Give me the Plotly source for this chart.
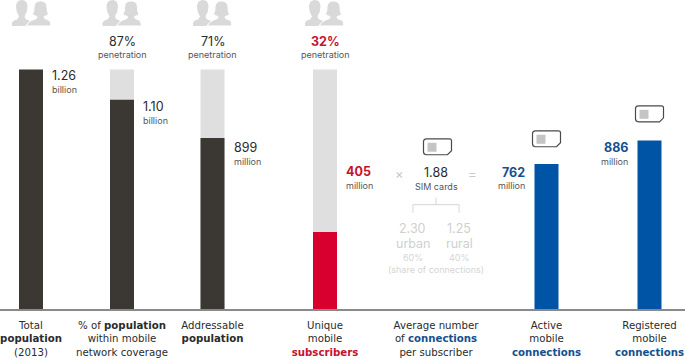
import plotly.graph_objects as go

FONT = "Inter"
DARK = "#3b3834"
LIGHT = "#dfdfdf"
RED = "#d7002e"
BLUE = "#0054a6"
RED_TXT = "#c4122f"
BLUE_TXT = "#14508f"
TEXT = "#2b2b2b"

categories = [
    "Total<br><b>population</b><br>(2013)",
    "% of <b>population</b><br>within mobile<br>network coverage",
    "Addressable<br><b>population</b>",
    f"Unique<br>mobile<br><b><span style='color:{RED_TXT}'>subscribers</span></b>",
    f"Average number<br>of <b><span style='color:{BLUE_TXT}'>connections</span></b><br>per subscriber",
    f"Active<br>mobile<br><b><span style='color:{BLUE_TXT}'>connections</span></b>",
    f"Registered<br>mobile<br><b><span style='color:{BLUE_TXT}'>connections</span></b>",
]
values_millions = [1260, 1100, 899, 405, None, 762, 886]
total_population = [None, 1260, 1260, 1260, None, None, None]
value_labels = ["1.26", "1.10", "899", "405", "1.88", "762", "886"]
unit_labels = ["billion", "billion", "million", "million", "SIM cards", "million", "million"]
penetration = [None, "87%", "71%", "32%", None, None, None]

# layout constants (pixels)
W, H = 685, 363
BASE = 309.5
Y_MAX = 1625
centers = [31, 122, 212.5, 325, 436, 546.5, 649.5]
bar_colors = [DARK, DARK, DARK, RED, DARK, BLUE, BLUE]
BAR_W = 24


def Y(py):
    return (BASE - py) * Y_MAX / BASE


def pth(points):
    """Build an SVG path from pixel commands, converting y to the axis."""
    out = []
    for cmd in points:
        c, *xy = cmd
        s = c
        for i in range(0, len(xy), 2):
            s += f" {xy[i]:.2f},{Y(xy[i + 1]):.2f}"
        out.append(s)
    return " ".join(out) + " Z"


shapes = []


def person(ox):
    grey = "#d9d9d9"
    male = [("M", ox, 26), ("L", ox, 23), ("Q", ox + 1, 20.5, ox + 5, 19.5), ("L", ox + 7, 16.5),
            ("Q", ox + 4, 12, ox + 4, 6.5), ("Q", ox + 4.5, 0, ox + 10, 0), ("Q", ox + 15, 0, ox + 15.5, 6.5),
            ("Q", ox + 15.5, 12, ox + 12.5, 16), ("L", ox + 13.5, 19), ("L", ox + 18, 21), ("L", ox + 13, 26)]
    shapes.append(dict(type="path", path=pth(male), fillcolor=grey, line_width=0, layer="above"))
    fx = ox + 28.5
    female = [("M", fx - 14, 26), ("Q", fx - 13, 22, fx - 9, 20.5), ("L", fx - 4, 18.5), ("L", fx - 3.5, 16.5),
              ("Q", fx - 7, 16, fx - 8, 14), ("Q", fx - 6, 11, fx - 6.5, 7), ("Q", fx - 6, 1, fx, 1),
              ("Q", fx + 6, 1, fx + 6.5, 7), ("Q", fx + 6, 11, fx + 8, 14), ("Q", fx + 7, 16, fx + 3.5, 16.5),
              ("L", fx + 4, 18.5), ("L", fx + 9, 20.5), ("Q", fx + 10, 22, fx + 10.5, 26)]
    shapes.append(dict(type="path", path=pth(female), fillcolor=grey, line=dict(color="white", width=1), layer="above"))


def sim(x0, y0):
    x1, y1 = x0 + 28, y0 + 16
    body = [("M", x0 + 3, y0), ("L", x1 - 2, y0), ("Q", x1, y0, x1, y0 + 2), ("L", x1, y1 - 4), ("L", x1 - 4, y1),
            ("L", x0 + 3, y1), ("Q", x0, y1, x0, y1 - 3), ("L", x0, y0 + 3), ("Q", x0, y0, x0 + 3, y0)]
    shapes.append(dict(type="path", path=pth(body), fillcolor="white", line=dict(color="#4a4a4a", width=1.2), layer="above"))
    inner = [("M", x0 + 4, y0 + 4), ("L", x0 + 13, y0 + 4), ("L", x0 + 13, y0 + 13), ("L", x0 + 4, y0 + 13)]
    shapes.append(dict(type="path", path=pth(inner), fillcolor="#c4c4c4", line_width=0, layer="above"))


for ox in (12, 102.5, 193, 305):
    person(ox)
for sx, sy in ((423.5, 139), (532.5, 131), (635.5, 106)):
    sim(sx, sy)

# bracket under 1.88
bracket = [((436, 198), (436, 205)), ((413, 205), (459, 205)), ((413, 205), (413, 213)), ((459, 205), (459, 213))]
for (a, b), (c, d) in bracket:
    shapes.append(dict(type="line", x0=a, x1=c, y0=Y(b), y1=Y(d), line=dict(color="#d5d5d5", width=1)))

annotations = []


def note(x, py, text, size, color, anchor="center", bold=False):
    annotations.append(dict(
        x=x, y=Y(py), text=f"<b>{text}</b>" if bold else text, showarrow=False, xanchor=anchor, yanchor="middle",
        font=dict(family=FONT, size=size, color=color), xref="x", yref="y"))


# value + unit labels
label_pos = [(50, 76, "left", TEXT), (141, 107, "left", TEXT), (232, 148, "left", TEXT),
             (344, 172, "left", RED_TXT), (436, 173, "center", TEXT), (527, 172.5, "right", BLUE_TXT),
             (630, 148, "right", BLUE_TXT)]
for (x, py, anc, col), val, unit in zip(label_pos, value_labels, unit_labels):
    note(x, py, val, 12.5, col, anc, bold=anc != "center" and col != TEXT)
    note(x, py + 13.5, unit, 9, "#555555", anc)

# penetration labels
for x, p in zip(centers, penetration):
    if p:
        note(x, 42, p, 12.5, RED_TXT if p == "32%" else TEXT, bold=p == "32%")
        note(x, 55, "penetration", 9, "#555555")

# operators and grey breakdown
note(399, 174, "×", 13, "#c8c8c8")
note(472, 174, "=", 13, "#c8c8c8")
note(412.5, 229, "2.30", 12.5, "#d0d0d0")
note(459, 229, "1.25", 12.5, "#d0d0d0")
note(412.5, 244, "urban", 12.5, "#d0d0d0")
note(459, 244, "rural", 12.5, "#d0d0d0")
note(412.5, 258, "60%", 9, "#d5d5d5")
note(459, 258, "40%", 9, "#d5d5d5")
note(436, 270, "(share of connections)", 9, "#d5d5d5")

fig = go.Figure()
fig.add_bar(x=centers, y=total_population, width=BAR_W, marker=dict(color=LIGHT, line_width=0))
fig.add_bar(x=centers, y=values_millions, width=BAR_W, marker=dict(color=bar_colors, line_width=0))
fig.update_layout(
    width=W, height=H, barmode="overlay", showlegend=False,
    margin=dict(l=0, r=0, t=0, b=H - BASE),
    paper_bgcolor="white", plot_bgcolor="white",
    shapes=shapes, annotations=annotations,
    xaxis=dict(range=[0, W], tickmode="array", tickvals=centers, ticktext=categories,
               showgrid=False, zeroline=False, showline=True, linecolor="#8a8a8a", linewidth=1.5,
               ticks="outside", ticklen=6, tickcolor="rgba(0,0,0,0)", ticklabeloverflow="allow",
               tickfont=dict(family="DejaVu Sans", size=10.2, color=TEXT), tickangle=0),
    yaxis=dict(range=[0, Y_MAX], visible=False, fixedrange=True),
)
fig.write_html("out.html", config=dict(displayModeBar=False),
               post_script="document.body.style.margin='0';")
